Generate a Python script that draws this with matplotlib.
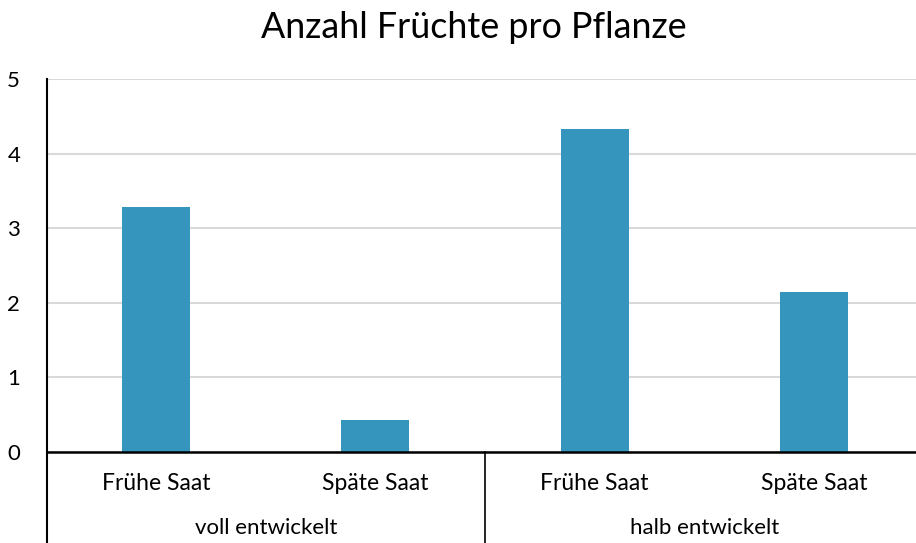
import matplotlib.pyplot as plt
import numpy as np

plt.rcParams['font.family'] = ['Lato', 'DejaVu Sans']

groups = ['voll entwickelt', 'halb entwickelt']
sub_labels = ['Frühe Saat', 'Späte Saat', 'Frühe Saat', 'Späte Saat']
values = [3.28, 0.43, 4.33, 2.14]
y_ticks = [0, 1, 2, 3, 4, 5]

bar_color = '#3595bd'

fig = plt.figure(figsize=(9.16, 5.43), dpi=100)
ax = fig.add_axes([0.0508, 0.1676, 0.9574, 0.687])

x = np.arange(len(values))
ax.bar(x, values, width=0.31, color=bar_color, zorder=3)

ax.set_xlim(-0.5, len(values) - 0.5)
ax.set_ylim(0, 5)
ax.set_yticks(y_ticks)
ax.set_yticklabels([str(t) for t in y_ticks], fontsize=16)
ax.tick_params(axis='y', length=0, pad=19)
ax.yaxis.grid(True, color='#d9d9d9', linewidth=1.5, zorder=0)

for s in ['top', 'right', 'left']:
    ax.spines[s].set_visible(False)
ax.spines['bottom'].set_linewidth(1.8)
ax.spines['bottom'].set_zorder(4)

ax.set_xticks(x)
ax.set_xticklabels(sub_labels, fontsize=16.5)
ax.tick_params(axis='x', length=0, pad=15)

# group labels and separators
trans = ax.get_xaxis_transform()
ax.plot([-0.5, -0.5], [1, -0.3], transform=trans, color='black', linewidth=1.5, clip_on=False, zorder=5)
ax.plot([1.5, 1.5], [0, -0.3], transform=trans, color='black', linewidth=1.2, clip_on=False)
for i, g in enumerate(groups):
    ax.text(2 * i + 0.5, -0.205, g, transform=trans, ha='center', va='center', fontsize=16)

fig.text(0.517, 0.95, 'Anzahl Früchte pro Pflanze', ha='center', va='center', fontsize=25.8)

fig.savefig('out.png', dpi=100)
